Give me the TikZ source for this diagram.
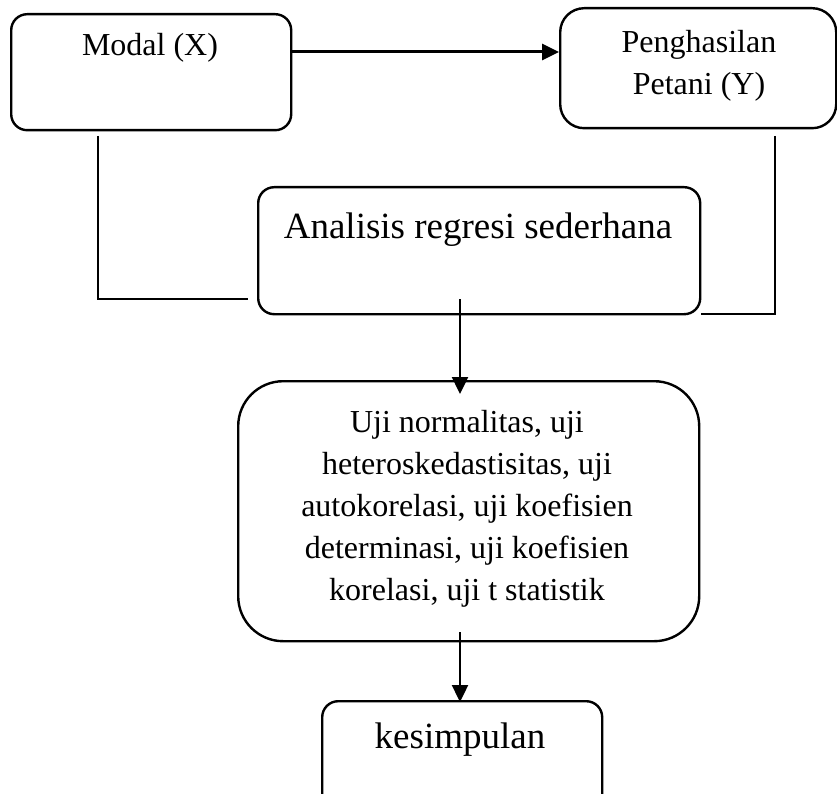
\documentclass[tikz,border=0pt]{standalone}
\usepackage{fontspec}
\setmainfont{Liberation Serif}
\usetikzlibrary{arrows.meta}
\newcommand{\mysmallfont}{\fontsize{32}{42}\selectfont}
\newcommand{\mybigfont}{\fontsize{37}{44}\selectfont}
\begin{document}
\begin{tikzpicture}[x=1pt,y=-1pt,line width=2.4pt,
  rbox/.style={draw,inner sep=0pt,anchor=north west},
  arr/.style={-{Triangle[length=17pt,width=16pt]}},
  lbl/.style={inner sep=0pt,align=center}]
\useasboundingbox (0,0) rectangle (837,794);
\clip (0,0) rectangle (837,794);
% boxes
\node[rbox,rounded corners=16pt,minimum width=280pt,minimum height=116pt] (modal) at (10,13) {};
\node[rbox,rounded corners=24pt,minimum width=276pt,minimum height=120pt] (peng) at (559,7) {};
\node[rbox,rounded corners=16pt,minimum width=442pt,minimum height=127pt] (anal) at (257,186) {};
\node[rbox,rounded corners=45pt,minimum width=461pt,minimum height=260pt] (uji) at (237,380) {};
\node[rbox,rounded corners=16pt,minimum width=280pt,minimum height=130pt] (kes) at (321,700) {};
% texts
\node[lbl,font=\mysmallfont] (modalt) at (150,48) {Modal (X)};
\node[lbl,font=\mysmallfont] (pengt) at (699,66) {Penghasilan\\Petani (Y)};
\node[lbl,font=\mybigfont] (analt) at (478,230) {Analisis regresi sederhana};
\node[lbl,font=\mysmallfont] (ujit) at (467,509) {Uji normalitas, uji\\heteroskedastisitas, uji\\autokorelasi, uji koefisien\\determinasi, uji koefisien\\korelasi, uji t statistik};
\node[lbl,font=\mybigfont] (kest) at (460,740) {kesimpulan};
% connectors
\coordinate (mY) at (0,52);
\draw[arr,line width=3pt] (modal.east |- mY) -- (peng.west |- mY);
\coordinate (l1) at (98,136);
\coordinate (l2) at (98,299);
\coordinate (l3) at (248,299);
\draw (l1) -- (l2) -- (l3);
\coordinate (r1) at (775,136);
\coordinate (r2) at (775,314);
\coordinate (r3) at (701,314);
\draw (r1) -- (r2) -- (r3);
\coordinate (a1) at (460,299);
\coordinate (a2) at (460,394);
\draw[arr] (a1) -- (a2);
\coordinate (b1) at (460,632);
\coordinate (b2) at (460,702);
\draw[arr] (b1) -- (b2);
\end{tikzpicture}
\end{document}
